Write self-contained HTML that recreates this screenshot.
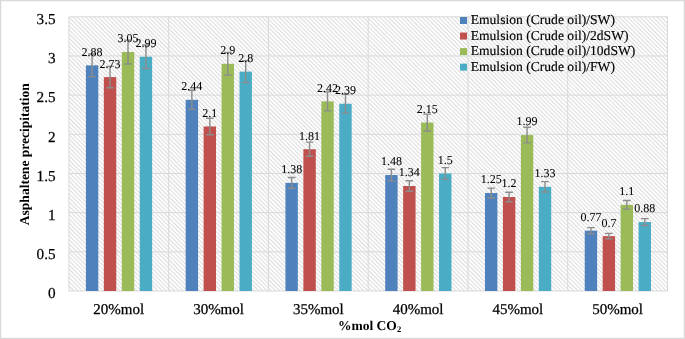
<!DOCTYPE html><html><head><meta charset="utf-8"><style>html,body{margin:0;padding:0;background:#fff;}svg{display:block;will-change:transform;}text{font-family:"Liberation Serif",serif;text-rendering:geometricPrecision;stroke:#000;stroke-width:0.25px;}</style></head><body>
<svg width="685" height="339" viewBox="0 0 685 339">
<defs><pattern id="h" patternUnits="userSpaceOnUse" x="0.53" y="0" width="2.970" height="10" patternTransform="rotate(-45)"><rect x="0" y="0" width="1.05" height="10" fill="#dcdcdc"/></pattern></defs>
<rect x="0" y="0" width="685" height="339" fill="#fff"/>
<rect x="0.6" y="0.6" width="683.8" height="337.8" fill="none" stroke="#dadada" stroke-width="1.3"/>
<rect x="68.90" y="16.78" width="598.60" height="274.22" fill="url(#h)"/>
<line x1="68.90" y1="291.00" x2="667.50" y2="291.00" stroke="#d9d9d9" stroke-width="1"/>
<line x1="68.90" y1="251.82" x2="667.50" y2="251.82" stroke="#d9d9d9" stroke-width="1"/>
<line x1="68.90" y1="212.65" x2="667.50" y2="212.65" stroke="#d9d9d9" stroke-width="1"/>
<line x1="68.90" y1="173.48" x2="667.50" y2="173.48" stroke="#d9d9d9" stroke-width="1"/>
<line x1="68.90" y1="134.30" x2="667.50" y2="134.30" stroke="#d9d9d9" stroke-width="1"/>
<line x1="68.90" y1="95.12" x2="667.50" y2="95.12" stroke="#d9d9d9" stroke-width="1"/>
<line x1="68.90" y1="55.95" x2="667.50" y2="55.95" stroke="#d9d9d9" stroke-width="1"/>
<line x1="68.90" y1="16.78" x2="667.50" y2="16.78" stroke="#d9d9d9" stroke-width="1"/>
<line x1="68.90" y1="16.78" x2="68.90" y2="291.00" stroke="#d9d9d9" stroke-width="1"/>
<line x1="168.67" y1="16.78" x2="168.67" y2="291.00" stroke="#d9d9d9" stroke-width="1"/>
<line x1="268.43" y1="16.78" x2="268.43" y2="291.00" stroke="#d9d9d9" stroke-width="1"/>
<line x1="368.20" y1="16.78" x2="368.20" y2="291.00" stroke="#d9d9d9" stroke-width="1"/>
<line x1="467.97" y1="16.78" x2="467.97" y2="291.00" stroke="#d9d9d9" stroke-width="1"/>
<line x1="567.73" y1="16.78" x2="567.73" y2="291.00" stroke="#d9d9d9" stroke-width="1"/>
<line x1="667.50" y1="16.78" x2="667.50" y2="291.00" stroke="#d9d9d9" stroke-width="1"/>
<rect x="85.90" y="65.35" width="12.40" height="225.65" fill="#4F81BD"/>
<rect x="103.85" y="77.10" width="12.40" height="213.90" fill="#C0504D"/>
<rect x="121.80" y="52.03" width="12.40" height="238.97" fill="#9BBB59"/>
<rect x="139.75" y="56.73" width="12.40" height="234.27" fill="#4BACC6"/>
<rect x="185.67" y="99.83" width="12.40" height="191.17" fill="#4F81BD"/>
<rect x="203.62" y="126.47" width="12.40" height="164.53" fill="#C0504D"/>
<rect x="221.57" y="63.79" width="12.40" height="227.21" fill="#9BBB59"/>
<rect x="239.52" y="71.62" width="12.40" height="219.38" fill="#4BACC6"/>
<rect x="285.43" y="182.88" width="12.40" height="108.12" fill="#4F81BD"/>
<rect x="303.38" y="149.19" width="12.40" height="141.81" fill="#C0504D"/>
<rect x="321.33" y="101.39" width="12.40" height="189.61" fill="#9BBB59"/>
<rect x="339.28" y="103.74" width="12.40" height="187.26" fill="#4BACC6"/>
<rect x="385.20" y="175.04" width="12.40" height="115.96" fill="#4F81BD"/>
<rect x="403.15" y="186.01" width="12.40" height="104.99" fill="#C0504D"/>
<rect x="421.10" y="122.55" width="12.40" height="168.45" fill="#9BBB59"/>
<rect x="439.05" y="173.48" width="12.40" height="117.52" fill="#4BACC6"/>
<rect x="484.97" y="193.06" width="12.40" height="97.94" fill="#4F81BD"/>
<rect x="502.92" y="196.98" width="12.40" height="94.02" fill="#C0504D"/>
<rect x="520.87" y="135.08" width="12.40" height="155.92" fill="#9BBB59"/>
<rect x="538.82" y="186.79" width="12.40" height="104.21" fill="#4BACC6"/>
<rect x="584.73" y="230.67" width="12.40" height="60.33" fill="#4F81BD"/>
<rect x="602.68" y="236.16" width="12.40" height="54.84" fill="#C0504D"/>
<rect x="620.63" y="204.81" width="12.40" height="86.19" fill="#9BBB59"/>
<rect x="638.58" y="222.05" width="12.40" height="68.95" fill="#4BACC6"/>
<path d="M92.10 54.07V76.63M88.30 54.07H95.90M88.30 76.63H95.90" stroke="#8c8c8c" stroke-width="1.4" fill="none"/>
<path d="M110.05 66.41V87.80M106.25 66.41H113.85M106.25 87.80H113.85" stroke="#8c8c8c" stroke-width="1.4" fill="none"/>
<path d="M128.00 40.08V63.98M124.20 40.08H131.80M124.20 63.98H131.80" stroke="#8c8c8c" stroke-width="1.4" fill="none"/>
<path d="M145.95 45.02V68.45M142.15 45.02H149.75M142.15 68.45H149.75" stroke="#8c8c8c" stroke-width="1.4" fill="none"/>
<path d="M191.87 90.27V109.38M188.07 90.27H195.67M188.07 109.38H195.67" stroke="#8c8c8c" stroke-width="1.4" fill="none"/>
<path d="M209.82 118.24V134.69M206.02 118.24H213.62M206.02 134.69H213.62" stroke="#8c8c8c" stroke-width="1.4" fill="none"/>
<path d="M227.77 52.42V75.15M223.97 52.42H231.57M223.97 75.15H231.57" stroke="#8c8c8c" stroke-width="1.4" fill="none"/>
<path d="M245.72 60.65V82.59M241.92 60.65H249.52M241.92 82.59H249.52" stroke="#8c8c8c" stroke-width="1.4" fill="none"/>
<path d="M291.63 177.47V188.28M287.83 177.47H295.43M287.83 188.28H295.43" stroke="#8c8c8c" stroke-width="1.4" fill="none"/>
<path d="M309.58 142.10V156.28M305.78 142.10H313.38M305.78 156.28H313.38" stroke="#8c8c8c" stroke-width="1.4" fill="none"/>
<path d="M327.53 91.91V110.87M323.73 91.91H331.33M323.73 110.87H331.33" stroke="#8c8c8c" stroke-width="1.4" fill="none"/>
<path d="M345.48 94.38V113.11M341.68 94.38H349.28M341.68 113.11H349.28" stroke="#8c8c8c" stroke-width="1.4" fill="none"/>
<path d="M391.40 169.24V180.84M387.60 169.24H395.20M387.60 180.84H395.20" stroke="#8c8c8c" stroke-width="1.4" fill="none"/>
<path d="M409.35 180.76V191.26M405.55 180.76H413.15M405.55 191.26H413.15" stroke="#8c8c8c" stroke-width="1.4" fill="none"/>
<path d="M427.30 114.12V130.97M423.50 114.12H431.10M423.50 130.97H431.10" stroke="#8c8c8c" stroke-width="1.4" fill="none"/>
<path d="M445.25 167.60V179.35M441.45 167.60H449.05M441.45 179.35H449.05" stroke="#8c8c8c" stroke-width="1.4" fill="none"/>
<path d="M491.17 188.17V197.96M487.37 188.17H494.97M487.37 197.96H494.97" stroke="#8c8c8c" stroke-width="1.4" fill="none"/>
<path d="M509.12 192.28V201.68M505.32 192.28H512.92M505.32 201.68H512.92" stroke="#8c8c8c" stroke-width="1.4" fill="none"/>
<path d="M527.07 127.29V142.88M523.27 127.29H530.87M523.27 142.88H530.87" stroke="#8c8c8c" stroke-width="1.4" fill="none"/>
<path d="M545.02 181.58V192.00M541.22 181.58H548.82M541.22 192.00H548.82" stroke="#8c8c8c" stroke-width="1.4" fill="none"/>
<path d="M590.93 227.65V233.69M587.13 227.65H594.73M587.13 233.69H594.73" stroke="#8c8c8c" stroke-width="1.4" fill="none"/>
<path d="M608.88 233.41V238.90M605.08 233.41H612.68M605.08 238.90H612.68" stroke="#8c8c8c" stroke-width="1.4" fill="none"/>
<path d="M626.83 200.51V209.12M623.03 200.51H630.63M623.03 209.12H630.63" stroke="#8c8c8c" stroke-width="1.4" fill="none"/>
<path d="M644.78 218.60V225.50M640.98 218.60H648.58M640.98 225.50H648.58" stroke="#8c8c8c" stroke-width="1.4" fill="none"/>
<text x="92.10" y="55.75" font-size="12" text-anchor="middle" fill="#000" style="stroke-width:0.05px">2.88</text>
<text x="110.05" y="67.50" font-size="12" text-anchor="middle" fill="#000" style="stroke-width:0.05px">2.73</text>
<text x="128.00" y="42.43" font-size="12" text-anchor="middle" fill="#000" style="stroke-width:0.05px">3.05</text>
<text x="145.95" y="47.13" font-size="12" text-anchor="middle" fill="#000" style="stroke-width:0.05px">2.99</text>
<text x="191.87" y="90.23" font-size="12" text-anchor="middle" fill="#000" style="stroke-width:0.05px">2.44</text>
<text x="209.82" y="116.87" font-size="12" text-anchor="middle" fill="#000" style="stroke-width:0.05px">2.1</text>
<text x="227.77" y="54.19" font-size="12" text-anchor="middle" fill="#000" style="stroke-width:0.05px">2.9</text>
<text x="245.72" y="62.02" font-size="12" text-anchor="middle" fill="#000" style="stroke-width:0.05px">2.8</text>
<text x="291.63" y="173.28" font-size="12" text-anchor="middle" fill="#000" style="stroke-width:0.05px">1.38</text>
<text x="309.58" y="139.59" font-size="12" text-anchor="middle" fill="#000" style="stroke-width:0.05px">1.81</text>
<text x="327.53" y="91.79" font-size="12" text-anchor="middle" fill="#000" style="stroke-width:0.05px">2.42</text>
<text x="345.48" y="94.14" font-size="12" text-anchor="middle" fill="#000" style="stroke-width:0.05px">2.39</text>
<text x="391.40" y="165.44" font-size="12" text-anchor="middle" fill="#000" style="stroke-width:0.05px">1.48</text>
<text x="409.35" y="176.41" font-size="12" text-anchor="middle" fill="#000" style="stroke-width:0.05px">1.34</text>
<text x="427.30" y="112.95" font-size="12" text-anchor="middle" fill="#000" style="stroke-width:0.05px">2.15</text>
<text x="445.25" y="163.88" font-size="12" text-anchor="middle" fill="#000" style="stroke-width:0.05px">1.5</text>
<text x="491.17" y="183.46" font-size="12" text-anchor="middle" fill="#000" style="stroke-width:0.05px">1.25</text>
<text x="509.12" y="187.38" font-size="12" text-anchor="middle" fill="#000" style="stroke-width:0.05px">1.2</text>
<text x="527.07" y="125.48" font-size="12" text-anchor="middle" fill="#000" style="stroke-width:0.05px">1.99</text>
<text x="545.02" y="177.19" font-size="12" text-anchor="middle" fill="#000" style="stroke-width:0.05px">1.33</text>
<text x="590.93" y="221.07" font-size="12" text-anchor="middle" fill="#000" style="stroke-width:0.05px">0.77</text>
<text x="608.88" y="226.56" font-size="12" text-anchor="middle" fill="#000" style="stroke-width:0.05px">0.7</text>
<text x="626.83" y="195.22" font-size="12" text-anchor="middle" fill="#000" style="stroke-width:0.05px">1.1</text>
<text x="644.78" y="212.45" font-size="12" text-anchor="middle" fill="#000" style="stroke-width:0.05px">0.88</text>
<text x="55.6" y="298.20" font-size="15.2" text-anchor="end" fill="#000">0</text>
<text x="55.6" y="259.02" font-size="15.2" text-anchor="end" fill="#000">0.5</text>
<text x="55.6" y="219.85" font-size="15.2" text-anchor="end" fill="#000">1</text>
<text x="55.6" y="180.68" font-size="15.2" text-anchor="end" fill="#000">1.5</text>
<text x="55.6" y="141.50" font-size="15.2" text-anchor="end" fill="#000">2</text>
<text x="55.6" y="102.33" font-size="15.2" text-anchor="end" fill="#000">2.5</text>
<text x="55.6" y="63.15" font-size="15.2" text-anchor="end" fill="#000">3</text>
<text x="55.6" y="23.98" font-size="15.2" text-anchor="end" fill="#000">3.5</text>
<text x="118.78" y="313.80" font-size="15" text-anchor="middle" fill="#000">20%mol</text>
<text x="218.55" y="313.80" font-size="15" text-anchor="middle" fill="#000">30%mol</text>
<text x="318.32" y="313.80" font-size="15" text-anchor="middle" fill="#000">35%mol</text>
<text x="418.08" y="313.80" font-size="15" text-anchor="middle" fill="#000">40%mol</text>
<text x="517.85" y="313.80" font-size="15" text-anchor="middle" fill="#000">45%mol</text>
<text x="617.62" y="313.80" font-size="15" text-anchor="middle" fill="#000">50%mol</text>
<text x="338" y="330.3" font-size="13.5" font-weight="bold" fill="#000" style="stroke-width:0">%mol CO<tspan font-size="8.5" dy="2">2</tspan></text>
<text transform="translate(28.5,154.2) rotate(-90)" font-size="13.5" font-weight="bold" text-anchor="middle" fill="#000" style="stroke-width:0">Asphaltene precipitation</text>
<rect x="460" y="17.00" width="7" height="7" fill="#4F81BD"/>
<text x="470.7" y="24.10" font-size="13.6" fill="#000" style="stroke-width:0.15px">Emulsion (Crude oil)/SW)</text>
<rect x="460" y="32.55" width="7" height="7" fill="#C0504D"/>
<text x="470.7" y="39.65" font-size="13.6" fill="#000" style="stroke-width:0.15px">Emulsion (Crude oil)/2dSW)</text>
<rect x="460" y="48.10" width="7" height="7" fill="#9BBB59"/>
<text x="470.7" y="55.20" font-size="13.6" fill="#000" style="stroke-width:0.15px">Emulsion (Crude oil)/10dSW)</text>
<rect x="460" y="63.65" width="7" height="7" fill="#4BACC6"/>
<text x="470.7" y="70.75" font-size="13.6" fill="#000" style="stroke-width:0.15px">Emulsion (Crude oil)/FW)</text>
</svg></body></html>
